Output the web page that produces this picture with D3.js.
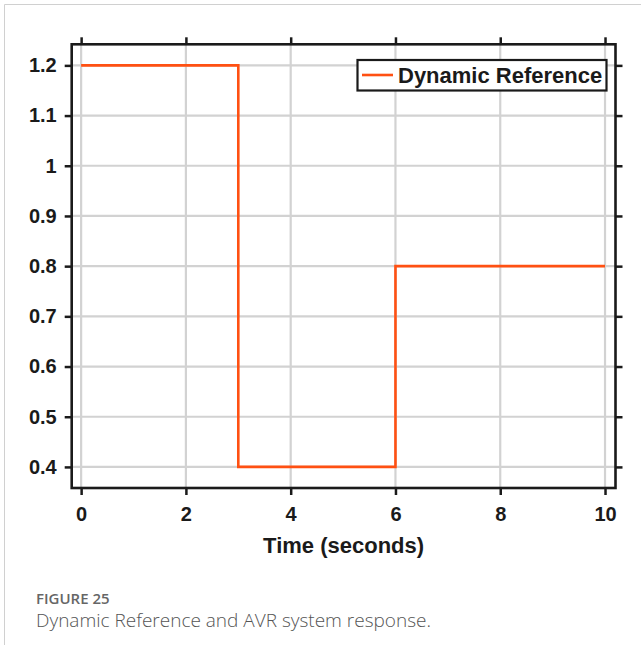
<!DOCTYPE html>
<html><head><meta charset="utf-8">
<script src="https://cdn.jsdelivr.net/npm/d3@7"></script>
<style>body{margin:0;background:#fff;} svg{display:block;}</style>
</head><body>
<svg id="c" width="641" height="645"></svg>
<script>
const timeSteps = [0, 3, 3, 6, 6, 10];
const referenceValues = [1.2, 1.2, 0.4, 0.4, 0.8, 0.8];
const xTicks = [0, 2, 4, 6, 8, 10];
const yTicks = [0.4, 0.5, 0.6, 0.7, 0.8, 0.9, 1, 1.1, 1.2];
const seriesName = "Dynamic Reference";
const xTitle = "Time (seconds)";
const figLabel = "FIGURE 25";
const captionText = "Dynamic Reference and AVR system response.";

const svg = d3.select("#c");
const L = 71.7, R = 615.5, T = 44.3, B = 488;
const x = d3.scaleLinear().domain([-0.18, 10.2]).range([L, R]);
const y = d3.scaleLinear().domain([0.358, 1.242]).range([B, T]);

// outer frame
svg.append("path").attr("d", "M4.5,645 V4.5 H641").attr("fill","none").attr("stroke","#d0d0d0").attr("stroke-width",1);

// grid
const g = svg.append("g");
g.selectAll(".gx").data(xTicks).join("line")
  .attr("x1", d=>x(d)).attr("x2", d=>x(d)).attr("y1", T).attr("y2", B)
  .attr("stroke", "#d2d2d2").attr("stroke-width", 2.2);
g.selectAll(".gy").data(yTicks).join("line")
  .attr("y1", d=>y(d)).attr("y2", d=>y(d)).attr("x1", L).attr("x2", R)
  .attr("stroke", "#d2d2d2").attr("stroke-width", 2.2);

// data line
const pts = timeSteps.map((t,i)=>[t, referenceValues[i]]);
svg.append("path").datum(pts)
  .attr("d", d3.line().x(d=>x(d[0])).y(d=>y(d[1])))
  .attr("fill","none").attr("stroke","#ff5012").attr("stroke-width",2.6);

// axes
const font = "'Liberation Sans', Arial, sans-serif";
function styleAxis(sel, labels){
  sel.select(".domain").remove();
  sel.selectAll(".tick line").attr("stroke","#1a1a1a").attr("stroke-width",2.5);
  sel.selectAll(".tick text").attr("fill", labels ? "#1a1a1a" : "none")
    .style("font-family", font).style("font-weight","bold").style("font-size","20px");
}
const ax = svg.append("g").attr("transform",`translate(0,${B})`)
  .call(d3.axisBottom(x).tickValues(xTicks).tickSize(7).tickPadding(12).tickFormat(d3.format("d")));
styleAxis(ax, true);
const axT = svg.append("g").attr("transform",`translate(0,${T})`)
  .call(d3.axisTop(x).tickValues(xTicks).tickSize(7).tickFormat(""));
styleAxis(axT, false);
const ay = svg.append("g").attr("transform",`translate(${L},0)`)
  .call(d3.axisLeft(y).tickValues(yTicks).tickSize(7).tickPadding(8).tickFormat(d=>d3.format("")(+d.toFixed(1))));
styleAxis(ay, true);
const ayR = svg.append("g").attr("transform",`translate(${R},0)`)
  .call(d3.axisRight(y).tickValues(yTicks).tickSize(7).tickFormat(""));
styleAxis(ayR, false);

svg.append("rect").attr("x",L).attr("y",T).attr("width",R-L).attr("height",B-T)
  .attr("fill","none").attr("stroke","#1a1a1a").attr("stroke-width",2.6);

// legend
const lg = svg.append("g");
lg.append("rect").attr("x",357.5).attr("y",60).attr("width",249).attr("height",30.5)
  .attr("fill","#fff").attr("stroke","#1a1a1a").attr("stroke-width",2.2);
lg.append("line").attr("x1",362).attr("x2",393).attr("y1",75).attr("y2",75)
  .attr("stroke","#ff5012").attr("stroke-width",2.6);
lg.append("text").attr("x",398).attr("y",83).text(seriesName)
  .style("font-family",font).style("font-weight","bold").style("font-size","22px").attr("fill","#1a1a1a");

// x title
svg.append("text").attr("x",(L+R)/2).attr("y",553).attr("text-anchor","middle").text(xTitle)
  .style("font-family",font).style("font-weight","bold").style("font-size","22px").attr("fill","#1a1a1a");

// caption
svg.append("text").attr("x",36).attr("y",604).text(figLabel)
  .style("font-family","'Open Sans', 'Noto Sans', sans-serif").style("font-size","15px").style("font-weight","600").attr("fill","#666");
svg.append("text").attr("x",36).attr("y",627).text(captionText)
  .style("font-family","'Open Sans', 'Noto Sans', sans-serif").style("font-size","19px").style("font-weight","300").attr("fill","#555");
</script>
</body></html>
